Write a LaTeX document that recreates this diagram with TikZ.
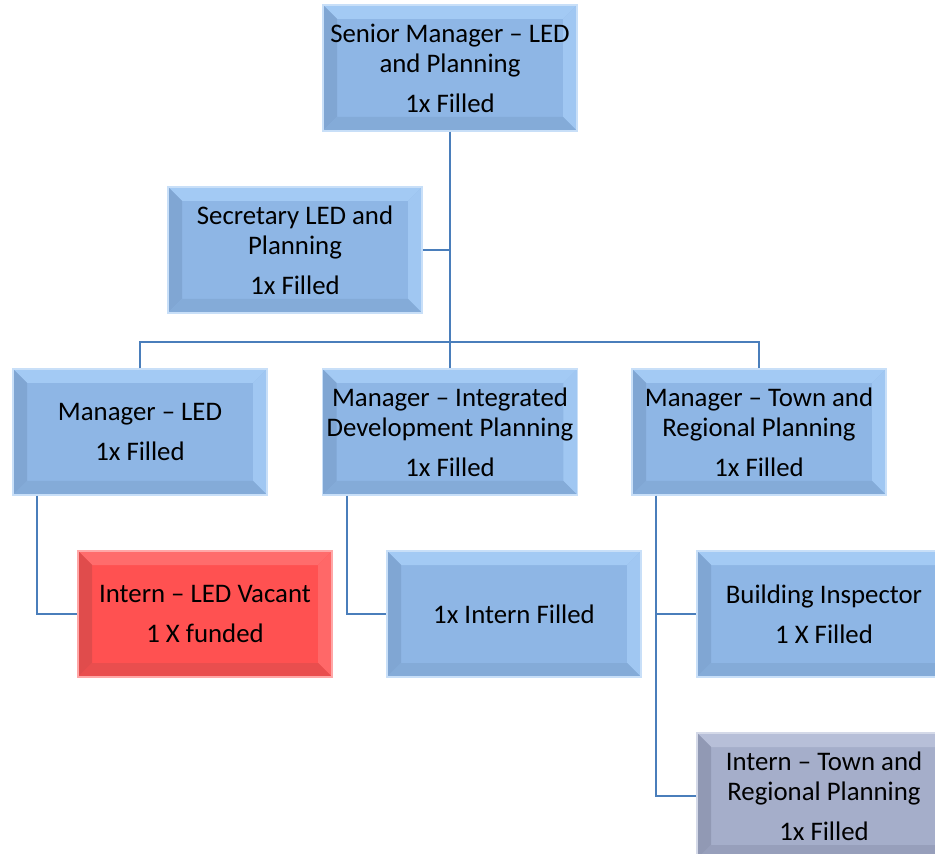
\documentclass[tikz,border=0pt]{standalone}
\usepackage{fontspec}
\setmainfont{Carlito}
\usetikzlibrary{positioning}
\definecolor{bluec}{HTML}{8EB6E5}
\definecolor{bluel}{HTML}{A3CAF4}
\definecolor{blued}{HTML}{80A6D3}
\definecolor{redc}{HTML}{FF5151}
\definecolor{redl}{HTML}{FF6C6C}
\definecolor{redd}{HTML}{E04C4C}
\definecolor{grayc}{HTML}{A5AECA}
\definecolor{grayl}{HTML}{B7BFD8}
\definecolor{grayd}{HTML}{9199B4}
\definecolor{linkc}{HTML}{4A7EBB}
\tikzset{
  post/.style n args={3}{draw=#2!60!white, line width=0.6pt, fill=#1,
    minimum width=127pt, minimum height=63pt, inner sep=2pt, align=center,
    font=\fontsize{13.4}{15}\selectfont,
    path picture={
      \coordinate (nw) at (path picture bounding box.north west);
      \coordinate (ne) at (path picture bounding box.north east);
      \coordinate (sw) at (path picture bounding box.south west);
      \coordinate (se) at (path picture bounding box.south east);
      \coordinate (inw) at ([shift={(7pt,-7pt)}]nw);
      \coordinate (ine) at ([shift={(-7pt,-7pt)}]ne);
      \coordinate (isw) at ([shift={(7pt,7pt)}]sw);
      \coordinate (ise) at ([shift={(-7pt,7pt)}]se);
      \fill[#2] (nw) -- (ne) -- (ine) -- (inw) -- cycle;
      \fill[#2!85!#1] (ne) -- (se) -- (ise) -- (ine) -- cycle;
      \fill[#3] (nw) -- (sw) -- (isw) -- (inw) -- cycle;
      \fill[#3!70!#1] (sw) -- (se) -- (ise) -- (isw) -- cycle;
    }},
  bluepost/.style={post={bluec}{bluel}{blued}},
  link/.style={draw=linkc, line width=1pt},
}
\begin{document}
\begin{tikzpicture}[x=0.5pt, y=-0.5pt]
  \useasboundingbox (0,0) rectangle (935,854);
  \clip (0,0) rectangle (935,854);
  \node[bluepost] (senior) at (450,68) {Senior Manager -- LED\\and Planning\\[5pt]1x Filled};
  \node[bluepost] (secretary) at (295,250) {Secretary LED and\\Planning\\[5pt]1x Filled};
  \node[bluepost] (mgrled) at (140,432) {Manager -- LED\\[5pt]1x Filled};
  \node[bluepost] (mgridp) at (450,432) {Manager -- Integrated\\Development Planning\\[5pt]1x Filled};
  \node[bluepost] (mgrtrp) at (759,432) {Manager -- Town and\\Regional Planning\\[5pt]1x Filled};
  \node[post={redc}{redl}{redd}] (internled) at (205,614) {Intern -- LED Vacant\\[5pt]1 X funded};
  \node[bluepost] (internidp) at (514,614) {1x Intern Filled};
  \node[bluepost] (inspector) at (824,614) {Building Inspector\\[5pt]1 X Filled};
  \node[post={grayc}{grayl}{grayd}] (interntrp) at (824,796) {Intern -- Town and\\Regional Planning\\[5pt]1x Filled};
  \coordinate (bus) at (450,342);
  \draw[link] (senior.south) -- (bus);
  \draw[link] (secretary.east) -- (secretary.east -| senior.south);
  \draw[link] (mgrled.north) |- (bus) -| (mgrtrp.north);
  \draw[link] (bus) -- (mgridp.north);
  \draw[link] ([xshift=12.5pt]mgrled.south west) |- (internled.west);
  \draw[link] ([xshift=12.5pt]mgridp.south west) |- (internidp.west);
  \draw[link] ([xshift=12.5pt]mgrtrp.south west) |- (inspector.west);
  \draw[link] ([xshift=12.5pt]mgrtrp.south west) |- (interntrp.west);
\end{tikzpicture}
\end{document}
